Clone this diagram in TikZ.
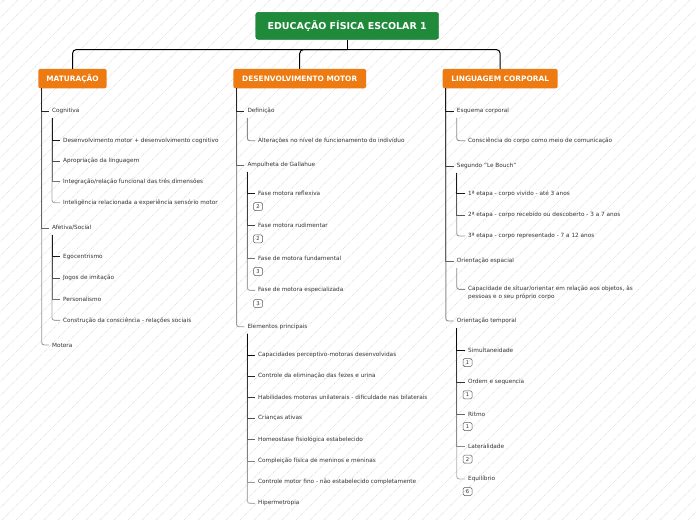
\documentclass[tikz,border=0pt]{standalone}
\usepackage{fontspec}
\setmainfont{DejaVu Sans}
\usetikzlibrary{calc}
\definecolor{titlegreen}{HTML}{1E8A3A}
\definecolor{branchorange}{HTML}{EE7A12}
\definecolor{leaftext}{HTML}{333333}
\definecolor{hatch}{HTML}{DADADA}
\tikzset{
  titlebox/.style={fill=titlegreen, draw=titlegreen!85!black, line width=0.4pt, rounded corners=2.5pt, text=white,
    font=\fontsize{9.5}{11}\selectfont\bfseries, minimum width=183pt, minimum height=27pt, inner sep=0pt},
  branchbox/.style={fill=branchorange, rounded corners=2pt, text=white,
    font=\fontsize{7.4}{8.5}\selectfont\bfseries, minimum height=19.3pt, inner sep=0pt},
  topic/.style={anchor=west, inner xsep=3pt, inner ysep=1pt, text=leaftext, font=\fontsize{5.75}{7.2}\selectfont},
  badge/.style={draw=black!65, rounded corners=1.4pt, minimum width=9pt, minimum height=8pt, inner sep=0pt,
    font=\fontsize{5.2}{5.5}\selectfont, text=leaftext, line width=0.5pt},
  conn/.style={line width=0.9pt},
  lastconn/.style={line width=0.9pt, rounded corners=2.5pt},
  hub/.style={line width=1pt, draw=black, rounded corners=4pt},
}
\begin{document}
\begin{tikzpicture}[x=1pt,y=-1pt]
\useasboundingbox (0,0) rectangle (696,520);
\fill[white] (0,0) rectangle (696,520);
\begin{scope}
  \clip (0,0) rectangle (696,520);
  \foreach \k in {0,...,90}
    \draw[hatch, line width=0.45pt, dash pattern=on 0.9pt off 0.9pt] (\k*14-530, 520) -- ++(540,-540);
\end{scope}

% title and branches
\node[titlebox] (title) at (347.2,25.8) {EDUCAÇÃO FÍSICA ESCOLAR 1};
\node[branchbox, minimum width=68.4pt] (mat) at (72.5,78.6) {MATURAÇÃO};
\node[branchbox, minimum width=132.7pt] (dev) at (299.7,78.6) {DESENVOLVIMENTO MOTOR};
\node[branchbox, minimum width=115pt] (lin) at (500.2,78.6) {LINGUAGEM CORPORAL};

\coordinate (hubpt) at ($(title.south)+(0,10)$);
\draw[line width=1pt] (title.south) -- (hubpt);
\draw[hub] (hubpt) -| (mat.north);
\draw[hub] (hubpt) -| (dev.north);
\draw[hub] (hubpt) -| (lin.north);

% ---------------- MATURAÇÃO ----------------
\node[topic] (cog) at (49,111) {Cognitiva};
\node[topic] (l1) at (60,140.7) {Desenvolvimento motor + desenvolvimento cognitivo};
\node[topic] (l2) at (60,161) {Apropriação da linguagem};
\node[topic] (l3) at (60,181.7) {Integração/relação funcional das três dimensões};
\node[topic] (l4) at (60,202.7) {Inteligência relacionada a experiência sensório motor};
\node[topic] (afe) at (49,228) {Afetiva/Social};
\node[topic] (l5) at (60,256.7) {Egocentrismo};
\node[topic] (l6) at (60,278.3) {Jogos de imitação};
\node[topic] (l7) at (60,299.3) {Personalismo};
\node[topic] (l8) at (60,320.3) {Construção da consciência - relações sociais};
\node[topic] (mot) at (49,345) {Motora};

\coordinate (matT) at ($(mat.south west)+(3.6,0)$);
\draw[lastconn, draw=black!40] (matT) |- (mot.west);
\draw[conn, draw=black!60] (matT) |- (afe.west);
\draw[conn, draw=black!85] (matT) |- (cog.west);

\coordinate (cogT) at ($(cog.south west)+(3,3)$);
\draw[lastconn, draw=black!35] (cogT) |- (l4.west);
\draw[conn, draw=black!55] (cogT) |- (l3.west);
\draw[conn, draw=black!70] (cogT) |- (l2.west);
\draw[conn, draw=black!90] (cogT) |- (l1.west);

\coordinate (afeT) at ($(afe.south west)+(3,3)$);
\draw[lastconn, draw=black!35] (afeT) |- (l8.west);
\draw[conn, draw=black!55] (afeT) |- (l7.west);
\draw[conn, draw=black!70] (afeT) |- (l6.west);
\draw[conn, draw=black!90] (afeT) |- (l5.west);

% ---------------- DESENVOLVIMENTO MOTOR ----------------
\node[topic] (def) at (244.3,111) {Definição};
\node[topic] (m1) at (255,140.7) {Alterações no nível de funcionamento do indivíduo};
\node[topic] (amp) at (244.3,165) {Ampulheta de Gallahue};
\node[topic] (m2) at (255,193.3) {Fase motora reflexiva};
\node[topic] (m3) at (255,225.7) {Fase motora rudimentar};
\node[topic] (m4) at (255,258.3) {Fase de motora fundamental};
\node[topic] (m5) at (255,290.3) {Fase de motora especializada};
\node[badge] (bm2) at ($(m2.west)+(3,13.2)$) {2};
\node[badge] (bm3) at ($(m3.west)+(3,13.2)$) {2};
\node[badge] (bm4) at ($(m4.west)+(3,13.2)$) {3};
\node[badge] (bm5) at ($(m5.west)+(3,13.2)$) {3};
\node[topic] (ele) at (244.3,326.7) {Elementos principais};
\node[topic] (e1) at (255,355) {Capacidades perceptivo-motoras desenvolvidas};
\node[topic] (e2) at (255,376) {Controle da eliminação das fezes e urina};
\node[topic] (e3) at (255,397.3) {Habilidades motoras unilaterais - dificuldade nas bilaterais};
\node[topic] (e4) at (255,418.3) {Crianças ativas};
\node[topic] (e5) at (255,439.3) {Homeostase fisiológica estabelecido};
\node[topic] (e6) at (255,461) {Compleição física de meninos e meninas};
\node[topic] (e7) at (255,482.3) {Controle motor fino - não estabelecido completamente};
\node[topic] (e8) at (255,503.3) {Hipermetropia};

\coordinate (devT) at ($(dev.south west)+(3.4,0)$);
\draw[lastconn, draw=black!40] (devT) |- (ele.west);
\draw[conn, draw=black!60] (devT) |- (amp.west);
\draw[conn, draw=black!85] (devT) |- (def.west);

\coordinate (defT) at ($(def.south west)+(3,3)$);
\draw[lastconn, draw=black!45] (defT) |- (m1.west);

\coordinate (ampT) at ($(amp.south west)+(3,3)$);
\draw[lastconn, draw=black!35] (ampT) |- (m5.west);
\draw[conn, draw=black!55] (ampT) |- (m4.west);
\draw[conn, draw=black!75] (ampT) |- (m3.west);
\draw[conn, draw=black!90] (ampT) |- (m2.west);

\coordinate (eleT) at ($(ele.south west)+(3,3)$);
\draw[lastconn, draw=black!30] (eleT) |- (e8.west);
\draw[conn, draw=black!40] (eleT) |- (e7.west);
\draw[conn, draw=black!50] (eleT) |- (e6.west);
\draw[conn, draw=black!60] (eleT) |- (e5.west);
\draw[conn, draw=black!70] (eleT) |- (e4.west);
\draw[conn, draw=black!78] (eleT) |- (e3.west);
\draw[conn, draw=black!86] (eleT) |- (e2.west);
\draw[conn, draw=black!95] (eleT) |- (e1.west);

% ---------------- LINGUAGEM CORPORAL ----------------
\node[topic] (esq) at (453.7,111) {Esquema corporal};
\node[topic] (r1) at (465,140.7) {Consciência do corpo como meio de comunicação};
\node[topic] (seg) at (453.7,166) {Segundo "Le Bouch"};
\node[topic] (r2) at (465,193.3) {1ª etapa - corpo vivido - até 3 anos};
\node[topic] (r3) at (465,215) {2ª etapa - corpo recebido ou descoberto - 3 a 7 anos};
\node[topic] (r4) at (465,236) {3ª etapa - corpo representado - 7 a 12 anos};
\node[topic] (ori) at (453.7,261) {Orientação espacial};
\node[topic, align=left, anchor=north west] (r5) at (465,285) {Capacidade de situar/orientar em relação aos objetos, às\\pessoas e o seu próprio corpo};
\node[topic] (otm) at (453.7,321) {Orientação temporal};
\node[topic] (t1) at (465,350) {Simultaneidade};
\node[topic] (t2) at (465,382.3) {Ordem e sequencia};
\node[topic] (t3) at (465,414) {Ritmo};
\node[topic] (t4) at (465,446.7) {Lateralidade};
\node[topic] (t5) at (465,479) {Equilíbrio};
\node[badge] (bt1) at ($(t1.west)+(2.5,12.5)$) {1};
\node[badge] (bt2) at ($(t2.west)+(2.5,12.5)$) {1};
\node[badge] (bt3) at ($(t3.west)+(2.5,12.5)$) {1};
\node[badge] (bt4) at ($(t4.west)+(2.5,12.5)$) {2};
\node[badge] (bt5) at ($(t5.west)+(2.5,12.5)$) {6};

\coordinate (linT) at ($(lin.south west)+(3.3,0)$);
\draw[lastconn, draw=black!45] (linT) |- (otm.west);
\draw[conn, draw=black!60] (linT) |- (ori.west);
\draw[conn, draw=black!75] (linT) |- (seg.west);
\draw[conn, draw=black!90] (linT) |- (esq.west);

\coordinate (esqT) at ($(esq.south west)+(3,3)$);
\draw[lastconn, draw=black!45] (esqT) |- (r1.west);

\coordinate (segT) at ($(seg.south west)+(3,3)$);
\draw[lastconn, draw=black!40] (segT) |- (r4.west);
\draw[conn, draw=black!65] (segT) |- (r3.west);
\draw[conn, draw=black!90] (segT) |- (r2.west);

\coordinate (oriT) at ($(ori.south west)+(3,3)$);
\draw[lastconn, draw=black!45] (oriT) |- ($(r5.north west)+(0,4.3)$);

\coordinate (otmT) at ($(otm.south west)+(3,3)$);
\draw[lastconn, draw=black!30] (otmT) |- (t5.west);
\draw[conn, draw=black!45] (otmT) |- (t4.west);
\draw[conn, draw=black!60] (otmT) |- (t3.west);
\draw[conn, draw=black!78] (otmT) |- (t2.west);
\draw[conn, draw=black!95] (otmT) |- (t1.west);
\end{tikzpicture}
\end{document}
